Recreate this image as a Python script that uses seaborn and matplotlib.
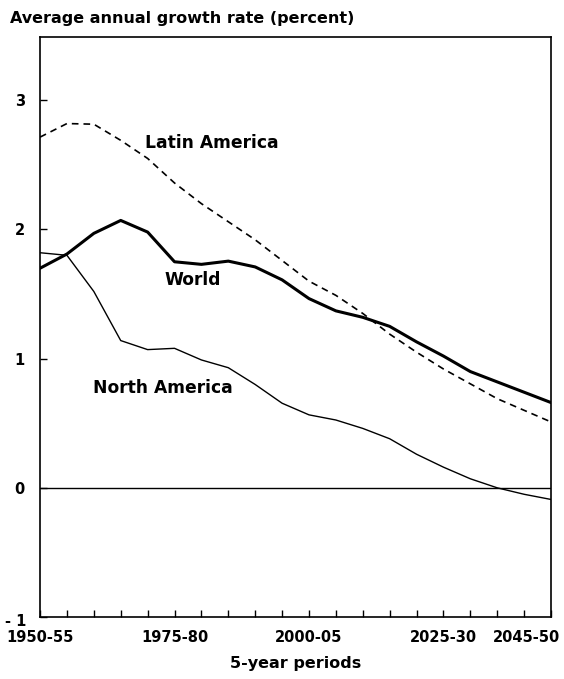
import matplotlib
matplotlib.use("Agg")
import matplotlib.pyplot as plt
import matplotlib.transforms as mtransforms
import seaborn as sns

periods = ["1950-55", "1955-60", "1960-65", "1965-70", "1970-75", "1975-80",
           "1980-85", "1985-90", "1990-95", "1995-00", "2000-05", "2005-10",
           "2010-15", "2015-20", "2020-25", "2025-30", "2030-35", "2035-40",
           "2040-45", "2045-50"]
world = [1.70, 1.81, 1.97, 2.07, 1.98, 1.75, 1.73, 1.755, 1.71, 1.61,
         1.465, 1.37, 1.32, 1.25, 1.13, 1.02, 0.90, 0.82, 0.74, 0.66]
latin_america = [2.715, 2.82, 2.815, 2.69, 2.55, 2.36, 2.20, 2.06, 1.92, 1.76,
                 1.60, 1.49, 1.35, 1.19, 1.05, 0.92, 0.805, 0.69, 0.60, 0.51]
north_america = [1.82, 1.80, 1.52, 1.14, 1.07, 1.08, 0.99, 0.93, 0.80, 0.655,
                 0.565, 0.525, 0.46, 0.38, 0.26, 0.16, 0.07, 0.0, -0.05, -0.09]
shown_ticks = ["1950-55", "1975-80", "2000-05", "2025-30", "2045-50"]

sns.set_style("white")
plt.rcParams['font.family'] = ['DejaVu Sans']
plt.rcParams['text.color'] = 'black'
plt.rcParams['axes.labelcolor'] = 'black'
plt.rcParams['xtick.color'] = 'black'
plt.rcParams['ytick.color'] = 'black'

idx = list(range(len(periods)))
fig = plt.figure(figsize=(5.64, 6.79), dpi=100)
ax = fig.add_axes([0.071, 0.0913, 0.906, 0.8542])

sns.lineplot(x=idx, y=world, ax=ax, color='black', linewidth=2.2)
sns.lineplot(x=idx, y=north_america, ax=ax, color='black', linewidth=1.0)
sns.lineplot(x=idx, y=latin_america, ax=ax, color='black', linewidth=1.2,
             linestyle=(0, (4, 3)))
ax.axhline(0, color='black', linewidth=1.0)

ax.set_xlim(0, len(periods) - 1)
ax.set_ylim(-1, 3.49)
ax.set_xticks(idx)
ax.set_xticklabels([p if p in shown_ticks else "" for p in periods],
                   fontweight='bold', fontsize=10.5)
ax.set_yticks([-1, 0, 1, 2, 3])
ax.set_yticklabels(["- 1", "0", "1", "2", "3"], fontweight='bold', fontsize=10.5)
ax.tick_params(axis='both', direction='in', length=5, width=1, colors='black')
ax.tick_params(axis='y', left=True, pad=11)
ax.tick_params(axis='x', bottom=True, pad=9)
for s in ax.spines.values():
    s.set_color('black')
    s.set_linewidth(1.2)

# last period label sits flush against the figure edge, as in the original
last = ax.get_xticklabels()[-1]
last.set_transform(last.get_transform() +
                   mtransforms.ScaledTranslation(-25 / 100, 0, fig.dpi_scale_trans))
# bottom y label sits a little low and further left in the original
low = ax.get_yticklabels()[0]
low.set_transform(low.get_transform() +
                  mtransforms.ScaledTranslation(2 / 100, -3 / 100, fig.dpi_scale_trans))

ax.text(3.9, 2.67, "Latin America", fontsize=12.3, fontweight='bold', va='center')
ax.text(4.63, 1.61, "World", fontsize=12.3, fontweight='bold', va='center')
ax.text(1.96, 0.77, "North America", fontsize=12.3, fontweight='bold', va='center')

fig.text(10 / 564, 1 - 18 / 679, "Average annual growth rate (percent)",
         fontsize=11.5, fontweight='bold', va='center', ha='left')
ax.set_xlabel("5-year periods", fontsize=11.5, fontweight='bold', labelpad=8)
ax.set_ylabel("")

fig.savefig("out.png", dpi=100)
